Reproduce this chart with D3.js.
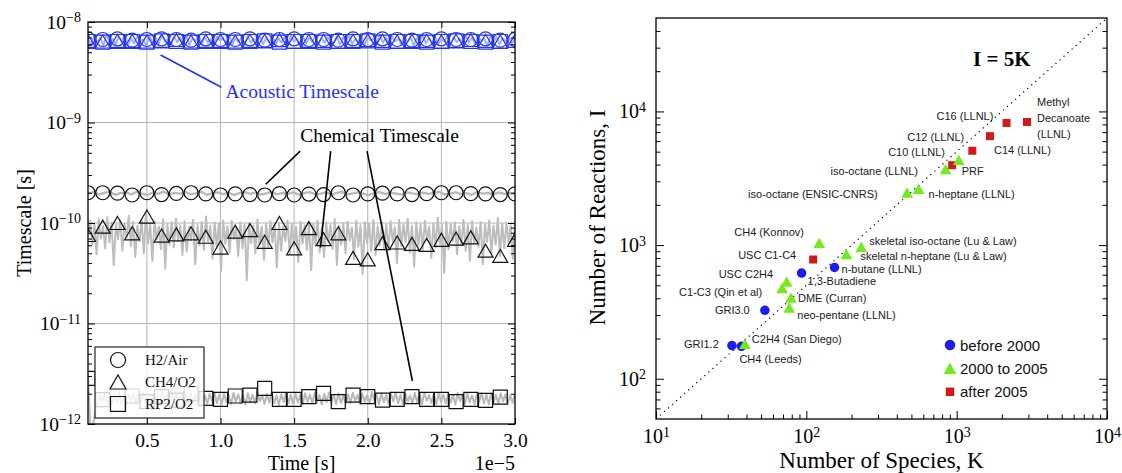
<!DOCTYPE html>
<html>
<head>
<meta charset="utf-8">
<script src="https://cdn.jsdelivr.net/npm/d3@7"></script>
<style>
  body { margin: 0; background: #fff; }
  svg { display: block; }
</style>
</head>
<body>
<script>
// ---------- left panel: timescales vs time (time in units of 1e-5 s) ----------
const markTimes = [0.1, 0.2, 0.3, 0.4, 0.5, 0.6, 0.7, 0.8, 0.9, 1.0, 1.1, 1.2, 1.3, 1.4, 1.5,
  1.6, 1.7, 1.8, 1.9, 2.0, 2.1, 2.2, 2.3, 2.4, 2.5, 2.6, 2.7, 2.8, 2.9, 3.0];

// chemical timescale markers
const h2Chem = [2.0, 2.0, 1.98, 1.9, 2.0, 1.92, 1.97, 2.0, 1.95, 1.9, 1.95, 1.92, 1.9, 1.96, 1.9,
  1.94, 1.92, 2.0, 1.9, 1.95, 1.98, 1.95, 1.92, 1.96, 2.0, 2.0, 1.96, 1.95, 1.92, 1.95];   // x1e-10
const ch4Chem = [7.6, 9.2, 10.0, 7.9, 11.6, 7.5, 7.7, 7.9, 7.3, 5.7, 8.2, 8.5, 6.5, 10.0, 5.6,
  8.9, 6.9, 7.9, 4.5, 4.35, 6.3, 6.4, 6.2, 6.05, 6.8, 7.0, 7.2, 5.3, 4.7, 6.8];            // x1e-11
const rp2Chem = [2.85, 1.75, 1.6, 1.9, 1.67, 1.87, 1.73, 2.0, 1.8, 1.76, 1.9, 1.94, 2.26, 1.76, 1.76,
  1.87, 2.02, 1.67, 1.94, 1.87, 1.73, 1.76, 1.87, 1.76, 1.76, 1.67, 1.76, 1.72, 1.85];     // x1e-12

// acoustic timescale markers (x1e-9)
const h2Acou = [6.8, 6.7, 6.8, 6.6, 6.7, 6.8, 6.7, 6.6, 6.8, 6.7, 6.7, 6.8, 6.6, 6.7, 6.8,
  6.7, 6.7, 6.6, 6.8, 6.7, 6.8, 6.7, 6.6, 6.7, 6.8, 6.7, 6.7, 6.8, 6.6, 6.7];
const ch4Acou = [6.5, 6.4, 6.5, 6.5, 6.4, 6.5, 6.6, 6.4, 6.5, 6.5, 6.4, 6.5, 6.5, 6.6, 6.4,
  6.5, 6.5, 6.4, 6.5, 6.6, 6.5, 6.4, 6.5, 6.5, 6.4, 6.5, 6.6, 6.5, 6.4, 6.5];
const rp2Acou = [6.4, 6.3, 6.4, 6.4, 6.3, 6.5, 6.4, 6.3, 6.4, 6.4, 6.3, 6.4, 6.5, 6.3, 6.4,
  6.4, 6.3, 6.4, 6.4, 6.5, 6.3, 6.4, 6.4, 6.3, 6.4, 6.5, 6.4, 6.3, 6.4];

// raw (unsampled) traces, evenly spaced over 0.1..3.0
const acouRaw = [6.9, 5.9, 7.3, 6.2, 7.0, 5.8, 7.4, 6.4, 6.8, 6.0, 7.2, 6.3, 7.5, 5.9, 6.9,
  6.1, 7.1, 6.5, 6.7, 5.8, 7.3, 6.2, 7.0, 6.0, 7.4, 6.4, 6.8, 5.9, 7.2, 6.3,
  7.0, 6.1, 7.3, 5.9, 6.9, 6.4, 7.5, 6.0, 7.1, 6.2, 6.8, 5.8, 7.2, 6.5, 7.0,
  6.1, 7.4, 6.0, 6.9, 6.3, 7.1, 5.9, 7.3, 6.2, 6.8, 6.4, 7.2, 6.0, 7.0, 6.3,
  7.4, 5.9, 6.9, 6.2, 7.1, 6.0, 7.3, 6.4, 6.8, 5.8, 7.2, 6.1, 7.0, 6.3, 7.3,
  6.0, 6.9, 6.2, 7.1, 6.4, 6.2, 7.2, 5.9, 7.0, 6.4, 7.4, 6.0, 6.8, 6.3, 7.3,
  5.8, 7.1, 6.5, 6.9, 6.1, 7.5, 6.2, 7.0, 5.9, 7.2, 6.4, 6.8, 6.0, 7.3, 6.3,
  7.1, 5.8, 6.9, 6.5, 7.4, 6.1, 7.0, 6.2, 7.2, 6.0, 6.8, 6.4, 7.3, 5.9, 7.1,
  6.3, 6.9, 6.1, 7.4, 6.2, 7.0, 6.0, 7.2, 6.5, 6.8, 5.8, 7.3, 6.3, 7.1, 6.0,
  6.9, 6.4, 7.2, 6.1, 7.0];                                                              // x1e-9
const h2Raw = [1.97, 2.03, 1.92, 1.99, 2.05, 1.91, 1.98, 2.02, 1.93, 2.04, 1.96, 1.9, 2.01, 1.95,
  2.05, 1.92, 1.99, 1.96, 2.03, 1.93, 1.98, 2.04, 1.91, 1.97, 2.02, 1.94, 2.0, 1.9, 1.98, 2.03,
  1.95, 2.01, 1.92, 1.97, 2.04, 1.93, 1.99, 1.95, 2.02, 1.91, 1.98, 2.03, 1.94, 1.96, 2.01,
  1.92, 1.99, 2.04, 1.93, 1.97, 2.02, 1.95, 1.9, 1.98, 2.03, 1.94, 2.0, 1.96, 1.92, 2.02,
  1.97, 1.93, 2.01, 1.95, 1.99, 2.04, 1.92, 1.96, 2.02, 1.94, 1.98, 1.91, 2.03, 1.96, 1.99,
  1.93, 2.01, 1.95, 1.98, 1.96];                                                         // x1e-10
const ch4Raw = [8.2, 10.6, 6.1, 9.8, 4.9, 10.9, 7.0, 9.3, 5.6, 11.4, 6.4, 10.1, 3.8, 9.6, 6.9,
  10.8, 5.3, 9.9, 7.2, 11.8, 5.9, 10.3, 4.6, 9.4, 6.6, 10.7, 5.0, 12.4, 6.3, 9.7,
  4.2, 10.5, 6.8, 9.2, 5.5, 10.9, 3.5, 9.8, 6.1, 10.2, 5.7, 11.1, 6.6, 9.5, 4.8,
  10.4, 5.2, 9.1, 6.7, 10.8, 3.9, 9.6, 6.0, 10.3, 5.4, 11.6, 6.5, 9.4, 4.4, 10.1,
  5.8, 9.9, 3.3, 10.6, 6.2, 9.3, 5.1, 10.5, 6.9, 9.0, 4.7, 10.2, 5.6, 9.7, 2.7,
  10.0, 6.3, 9.4, 5.0, 10.8, 6.1, 9.2, 4.3, 9.9, 5.7, 10.4, 6.4, 9.6, 3.6, 10.1,
  5.3, 9.3, 6.6, 10.6, 4.9, 9.8, 5.9, 9.1, 4.1, 10.3, 6.2, 9.5, 5.4, 10.0, 3.4,
  9.7, 6.0, 10.5, 5.1, 9.2, 4.6, 10.1, 6.5, 9.6, 5.5, 10.9, 3.8, 9.4, 6.1, 9.9,
  5.0, 10.3, 6.7, 9.0, 4.4, 10.6, 5.8, 9.5, 3.1, 10.2, 6.3, 9.8, 5.2, 10.7, 4.8,
  9.3, 6.0, 10.0, 5.6, 9.6, 5.5, 10.4, 6.6, 9.1, 4.0, 10.8, 5.9, 9.7, 6.4, 11.0,
  5.1, 9.4, 3.7, 10.2, 6.0, 9.6, 5.4, 10.5, 6.8, 9.2, 4.5, 10.0, 5.7, 11.3, 6.2,
  9.5, 3.2, 10.3, 5.5, 9.8, 6.6, 10.1, 4.9, 9.3, 6.0, 10.7, 5.3, 9.6, 4.2, 10.4,
  6.3, 9.0, 5.8, 10.2, 3.9, 9.7, 6.5, 10.6, 5.0, 9.4, 6.1, 11.2, 4.7, 9.9, 5.6,
  10.0, 6.4, 9.5, 4.4, 10.3];                                                            // x1e-11
const rp2Raw = [3.0, 0.9, 0.92, 1.3, 1.62, 1.95, 1.7, 2.0, 1.6, 1.88, 1.58, 1.97, 1.66, 2.05, 1.6,
  1.9, 1.56, 1.98, 1.68, 2.02, 1.59, 1.92, 1.64, 2.08, 1.7, 1.95, 1.57, 2.0, 1.65, 1.93,
  1.6, 2.06, 1.72, 1.96, 1.62, 2.12, 1.75, 2.05, 1.66, 1.98, 1.58, 1.94, 1.63, 2.01, 1.6,
  1.96, 1.55, 2.03, 1.67, 1.92, 1.6, 1.99, 1.7, 2.06, 1.62, 1.95, 1.57, 2.0, 1.66, 1.91,
  1.59, 2.04, 1.68, 1.97, 1.61, 1.93, 1.56, 2.02, 1.65, 1.96, 1.6, 2.07, 1.69, 1.94, 1.58,
  1.99, 1.63, 2.03, 1.6, 1.92, 1.55, 1.98, 1.66, 2.05, 1.61, 1.95, 1.59, 2.0, 1.64, 1.93,
  1.57, 2.02, 1.67, 1.96, 1.6, 2.04, 1.62, 1.94, 1.56, 1.99, 1.65, 2.06, 1.6, 1.95, 1.58,
  2.01, 1.63, 1.92, 1.59, 1.97, 1.62, 2.04, 1.7, 1.95, 1.58, 2.0, 1.66, 1.93, 1.6, 2.08,
  1.72, 1.97, 1.57, 2.02, 1.64, 1.94, 1.59, 1.99, 1.68, 2.05, 1.61, 1.96, 1.56, 2.01, 1.67,
  1.92, 1.6, 2.03, 1.65, 1.97, 1.58, 2.06, 1.7, 1.94, 1.62, 1.99, 1.57, 2.02, 1.66, 1.95,
  1.6, 2.0, 1.63, 1.93, 1.56, 2.04, 1.69, 1.96, 1.59, 2.01, 1.64, 1.92, 1.58, 1.98, 1.67,
  2.03, 1.61, 1.95, 1.57, 2.0, 1.65, 1.94, 1.6, 2.02, 1.68, 1.97, 1.59, 1.93, 1.63, 1.99]; // x1e-12

const xTicksL = [0.5, 1.0, 1.5, 2.0, 2.5, 3.0];
const yDecadesL = [-12, -11, -10, -9, -8];
const legendL = ["H2/Air", "CH4/O2", "RP2/O2"];

// ---------- right panel: mechanism size ----------
const mechNames = ["GRI1.2", "CH4 (Leeds)", "C2H4 (San Diego)", "GRI3.0", "neo-pentane (LLNL)",
  "DME (Curran)", "C1-C3 (Qin et al)", "USC C2H4", "1,3-Butadiene", "n-butane (LLNL)",
  "USC C1-C4", "CH4 (Konnov)", "skeletal n-heptane (Lu & Law)", "skeletal iso-octane (Lu & Law)",
  "iso-octane (ENSIC-CNRS)", "n-heptane (LLNL)", "iso-octane (LLNL)", "C10 (LLNL)", "PRF",
  "C12 (LLNL)", "C14 (LLNL)", "C16 (LLNL)", "Methyl|Decanoate|(LLNL)"];
const species = [32, 37, 39, 53, 77, 79, 69, 74, 93, 154, 111, 122, 185, 232,
  468, 558, 844, 933, 1033, 1271, 1665, 2147, 2937];
const reactions = [177, 175, 182, 325, 340, 404, 476, 534, 618, 681, 780, 1038, 855, 969,
  2470, 2630, 3700, 3960, 4335, 5080, 6530, 8200, 8340];
const period = [0, 0, 1, 0, 1, 1, 1, 1, 0, 0, 2, 1, 1, 1, 1, 1, 1, 2, 1, 2, 2, 2, 2];
const periodNames = ["before 2000", "2000 to 2005", "after 2005"];
const xDecadesR = [1, 2, 3, 4];
const yDecadesR = [2, 3, 4];

// label placement relative to each point (px)
const labelDx = [-48, -2, 7, -50, 8, 7, -103, -68, 6, 7, -75, -85, 14, 8, -159, 10, -115, -64, 3, -65, 4, -70, 10];
const labelDy = [2, 17, -1, 4, 11, 4, 8, -4, 12, 6, -1, -7, 6, -2, 5, 9, 6, -9, 15, -10, 18, -3, -16];

// ---------- layout ----------
const W = 1122, H = 473;
const LP = { l: 88, r: 515, t: 22, b: 424 };
const RP = { l: 656, r: 1107, t: 18, b: 419 };
const SERIF = "'Liberation Serif', 'DejaVu Serif', serif";
const SANS = "'Liberation Sans', Arial, sans-serif";
const ACOU = "#2233f2";
const periodColor = ["#1c1cf0", "#74ea1a", "#d01a1a"];

const svg = d3.select("body").append("svg").attr("width", W).attr("height", H);
svg.append("rect").attr("width", W).attr("height", H).attr("fill", "#fff");

const defs = svg.append("defs");
defs.append("clipPath").attr("id", "clipL").append("rect")
  .attr("x", LP.l).attr("y", LP.t).attr("width", LP.r - LP.l).attr("height", LP.b - LP.t);
defs.append("clipPath").attr("id", "clipR").append("rect")
  .attr("x", RP.l).attr("y", RP.t).attr("width", RP.r - RP.l).attr("height", RP.b - RP.t);

function trianglePath(w, h) {
  return `M0,${-h / 2}L${w / 2},${h / 2}L${-w / 2},${h / 2}Z`;
}
function shape(kind, s) {
  if (kind === "circle") return d3.symbol(d3.symbolCircle, Math.PI * s * s / 4)();
  if (kind === "square") return d3.symbol(d3.symbolSquare, s * s)();
  return trianglePath(s * 1.07, s * 0.93);
}

function supLabel(sel, base, exp, supSize) {
  sel.each(function (d) {
    const t = d3.select(this);
    t.text(null);
    t.append("tspan").text(base);
    t.append("tspan").attr("dy", "-0.45em").attr("font-size", supSize).text(exp(d));
  });
}

// ================= LEFT PANEL =================
const x1 = d3.scaleLinear().domain([0.1, 3.0]).range([LP.l, LP.r]);
const y1 = d3.scaleLog().domain([1e-12, 1e-8]).range([LP.b, LP.t]);

const gL = svg.append("g");

// grid
gL.append("g").selectAll("line").data(xTicksL.filter(d => d < 3)).join("line")
  .attr("x1", d => x1(d)).attr("x2", d => x1(d)).attr("y1", LP.t).attr("y2", LP.b)
  .attr("stroke", "#b4b4b4").attr("stroke-width", 1);
gL.append("g").selectAll("line").data(yDecadesL.slice(1, -1)).join("line")
  .attr("x1", LP.l).attr("x2", LP.r).attr("y1", d => y1(Math.pow(10, d))).attr("y2", d => y1(Math.pow(10, d)))
  .attr("stroke", "#b4b4b4").attr("stroke-width", 1);

const plotL = gL.append("g").attr("clip-path", "url(#clipL)");

function rawLine(arr, unit, color, width) {
  const ts = d3.scaleLinear().domain([0, arr.length - 1]).range([0.1, 3.0]);
  plotL.append("path").datum(arr)
    .attr("d", d3.line().x((d, i) => x1(ts(i))).y(d => y1(d * unit)))
    .attr("fill", "none").attr("stroke", color).attr("stroke-width", width)
    .attr("stroke-linejoin", "round");
}
rawLine(acouRaw, 1e-9, "#9eaaff", 1.8);
rawLine(h2Raw, 1e-10, "#b9b9b9", 2.4);
rawLine(ch4Raw, 1e-11, "#bdbdbd", 2.0);
rawLine(rp2Raw, 1e-12, "#b9b9b9", 2.0);

function markers(vals, unit, kind, size, color) {
  plotL.append("g").selectAll("path").data(vals).join("path")
    .attr("d", shape(kind, size))
    .attr("transform", (d, i) => `translate(${x1(markTimes[i])},${y1(d * unit)})`)
    .attr("fill", "none").attr("stroke", color).attr("stroke-width", 1.2);
}
markers(h2Acou, 1e-9, "circle", 14, ACOU);
markers(ch4Acou, 1e-9, "triangle", 14, ACOU);
markers(rp2Acou, 1e-9, "square", 14, ACOU);
markers(h2Chem, 1e-10, "circle", 14, "#111");
markers(ch4Chem, 1e-11, "triangle", 14, "#111");
markers(rp2Chem, 1e-12, "square", 14, "#111");

// axes (ticks inward on all four sides)
const minorL = [];
yDecadesL.slice(0, -1).forEach(e => { for (let k = 2; k <= 9; k++) minorL.push(k * Math.pow(10, e)); });
const decL = yDecadesL.map(e => Math.pow(10, e));

function styleAxis(g) {
  g.select(".domain").remove();
  g.selectAll(".tick line").attr("stroke", "#000").attr("stroke-width", 1);
}
gL.append("g").attr("transform", `translate(0,${LP.b})`)
  .call(d3.axisBottom(x1).tickValues(xTicksL).tickFormat(d3.format(".1f")).tickSize(-6).tickPadding(9))
  .call(styleAxis)
  .selectAll("text").attr("font-family", SERIF).attr("font-size", 19.5).attr("fill", "#000");
gL.append("g").attr("transform", `translate(0,${LP.t})`)
  .call(d3.axisTop(x1).tickValues(xTicksL).tickFormat("").tickSize(-6)).call(styleAxis);
gL.append("g").attr("transform", `translate(${LP.l},0)`)
  .call(d3.axisLeft(y1).tickValues(minorL).tickFormat("").tickSize(-4)).call(styleAxis);
gL.append("g").attr("transform", `translate(${LP.r},0)`)
  .call(d3.axisRight(y1).tickValues(minorL).tickFormat("").tickSize(-4)).call(styleAxis);
gL.append("g").attr("transform", `translate(${LP.r},0)`)
  .call(d3.axisRight(y1).tickValues(decL).tickFormat("").tickSize(-7)).call(styleAxis);
const yAxL = gL.append("g").attr("transform", `translate(${LP.l},0)`)
  .call(d3.axisLeft(y1).tickValues(decL).tickSize(-7).tickPadding(7)).call(styleAxis);
yAxL.selectAll("text").attr("font-family", SERIF).attr("font-size", 19.5).attr("fill", "#000")
  .call(supLabel, "10", d => "\u2212" + Math.round(-Math.log10(d)), 14);

gL.append("rect").attr("x", LP.l).attr("y", LP.t).attr("width", LP.r - LP.l).attr("height", LP.b - LP.t)
  .attr("fill", "none").attr("stroke", "#000").attr("stroke-width", 1.3);

// annotations (data coordinates)
const annoLines = [
  { a: [0.593, 4.69e-9], b: [1.006, 2.24e-9], color: ACOU },
  { a: [1.541, 5.19e-10], b: [1.307, 2.43e-10], color: "#000" },
  { a: [1.748, 5.19e-10], b: [1.679, 5.7e-11], color: "#000" },
  { a: [1.995, 5.19e-10], b: [2.303, 2.68e-12], color: "#000" }
];
gL.append("g").selectAll("line").data(annoLines).join("line")
  .attr("x1", d => x1(d.a[0])).attr("y1", d => y1(d.a[1]))
  .attr("x2", d => x1(d.b[0])).attr("y2", d => y1(d.b[1]))
  .attr("stroke", d => d.color).attr("stroke-width", 1.6);
gL.append("text").attr("x", x1(1.034)).attr("y", y1(1.75e-9))
  .attr("font-family", SERIF).attr("font-size", 19.5).attr("fill", ACOU).text("Acoustic Timescale");
gL.append("text").attr("x", x1(1.541)).attr("y", y1(6.4e-10))
  .attr("font-family", SERIF).attr("font-size", 19.5).attr("fill", "#000").text("Chemical Timescale");

// legend
const leg = gL.append("g");
leg.append("rect").attr("x", 95).attr("y", 347).attr("width", 109).attr("height", 71)
  .attr("fill", "#fff").attr("fill-opacity", 0.8).attr("stroke", "#333").attr("stroke-width", 1.3);
const legKinds = ["circle", "triangle", "square"];
legendL.forEach((name, i) => {
  const cy = 360 + i * 22;
  leg.append("path").attr("d", shape(legKinds[i], 15)).attr("transform", `translate(118,${cy})`)
    .attr("fill", "none").attr("stroke", "#111").attr("stroke-width", 1.2);
  leg.append("text").attr("x", 145).attr("y", cy + 5).attr("font-family", SERIF).attr("font-size", 15)
    .attr("fill", "#111").text(name);
});

// axis titles
svg.append("text").attr("x", (LP.l + LP.r) / 2).attr("y", 470).attr("text-anchor", "middle")
  .attr("font-family", SERIF).attr("font-size", 20).text("Time [s]");
svg.append("text").attr("x", LP.r).attr("y", 470).attr("text-anchor", "end")
  .attr("font-family", SERIF).attr("font-size", 20).text("1e\u22125");
svg.append("text").attr("transform", `translate(31,${(LP.t + LP.b) / 2}) rotate(-90)`)
  .attr("text-anchor", "middle").attr("font-family", SERIF).attr("font-size", 20).text("Timescale [s]");

// ================= RIGHT PANEL =================
const x2 = d3.scaleLog().domain([10, 1e4]).range([RP.l, RP.r]);
const y2 = d3.scaleLog().domain([50, 5e4]).range([RP.b, RP.t]);
const gR = svg.append("g");

// I = 5K reference line
gR.append("path").datum([10, 1e4]).attr("clip-path", "url(#clipR)")
  .attr("d", d3.line().x(d => x2(d)).y(d => y2(5 * d)))
  .attr("stroke", "#000").attr("stroke-width", 1.2).attr("stroke-dasharray", "1.2,4.2").attr("fill", "none");

const kinds = ["circle", "triangle", "square"];
const markSize = [9.5, 11, 8];
const pts = gR.append("g");
species.forEach((k, i) => {
  pts.append("path").attr("d", shape(kinds[period[i]], markSize[period[i]]))
    .attr("transform", `translate(${x2(k)},${y2(reactions[i])})`)
    .attr("fill", periodColor[period[i]]);
});
const lab = gR.append("g").attr("font-family", SANS).attr("font-size", 11).attr("fill", "#1a1a1a");
mechNames.forEach((name, i) => {
  const t = lab.append("text").attr("x", x2(species[i]) + labelDx[i]).attr("y", y2(reactions[i]) + labelDy[i]);
  name.split("|").forEach((part, j) => {
    t.append("tspan").attr("x", x2(species[i]) + labelDx[i]).attr("dy", j ? 16 : 0).text(part);
  });
});

// "I = 5K"
gR.append("text").attr("x", 973).attr("y", 66).attr("font-family", SERIF).attr("font-weight", "bold")
  .attr("font-size", 21).text("I = 5K");

// legend
periodNames.forEach((name, i) => {
  const cy = 345 + i * 23.4;
  gR.append("path").attr("d", shape(kinds[i], [10.5, 12, 8.5][i])).attr("transform", `translate(950,${cy})`)
    .attr("fill", periodColor[i]);
  gR.append("text").attr("x", 960).attr("y", cy + 5.5).attr("font-family", SANS).attr("font-size", 15)
    .attr("fill", "#111").text(name);
});

// axes
const minorRx = [], minorRy = [];
[1, 2, 3].forEach(e => { for (let k = 2; k <= 9; k++) minorRx.push(k * Math.pow(10, e)); });
[1, 2, 3, 4].forEach(e => { for (let k = 2; k <= 9; k++) { const v = k * Math.pow(10, e); if (v > 50 && v < 5e4) minorRy.push(v); } });
const decRx = xDecadesR.map(e => Math.pow(10, e));
const decRy = yDecadesR.map(e => Math.pow(10, e));

gR.append("g").attr("transform", `translate(0,${RP.b})`)
  .call(d3.axisBottom(x2).tickValues(minorRx).tickFormat("").tickSize(-4.5)).call(styleAxis);
const xAxR = gR.append("g").attr("transform", `translate(0,${RP.b})`)
  .call(d3.axisBottom(x2).tickValues(decRx).tickSize(-8).tickPadding(10)).call(styleAxis);
xAxR.selectAll("text").attr("font-family", SERIF).attr("font-size", 20).attr("fill", "#000")
  .call(supLabel, "10", d => String(Math.round(Math.log10(d))), 14);
gR.append("g").attr("transform", `translate(${RP.l},0)`)
  .call(d3.axisLeft(y2).tickValues(minorRy).tickFormat("").tickSize(-4.5)).call(styleAxis);
const yAxR = gR.append("g").attr("transform", `translate(${RP.l},0)`)
  .call(d3.axisLeft(y2).tickValues(decRy).tickSize(-8).tickPadding(10)).call(styleAxis);
yAxR.selectAll("text").attr("font-family", SERIF).attr("font-size", 20).attr("fill", "#000")
  .call(supLabel, "10", d => String(Math.round(Math.log10(d))), 14);
gR.append("g").attr("transform", `translate(${RP.r},0)`)
  .call(d3.axisRight(y2).tickValues(minorRy).tickFormat("").tickSize(-4.5)).call(styleAxis);
gR.append("g").attr("transform", `translate(${RP.r},0)`)
  .call(d3.axisRight(y2).tickValues(decRy).tickFormat("").tickSize(-8)).call(styleAxis);

gR.append("rect").attr("x", RP.l).attr("y", RP.t).attr("width", RP.r - RP.l).attr("height", RP.b - RP.t)
  .attr("fill", "none").attr("stroke", "#000").attr("stroke-width", 1.3);

svg.append("text").attr("x", (RP.l + RP.r) / 2).attr("y", 468).attr("text-anchor", "middle")
  .attr("font-family", SERIF).attr("font-size", 23).text("Number of Species, K");
svg.append("text").attr("transform", `translate(605,${(RP.t + RP.b) / 2 - 1}) rotate(-90)`)
  .attr("text-anchor", "middle").attr("font-family", SERIF).attr("font-size", 23).text("Number of Reactions, I");
</script>
</body>
</html>
